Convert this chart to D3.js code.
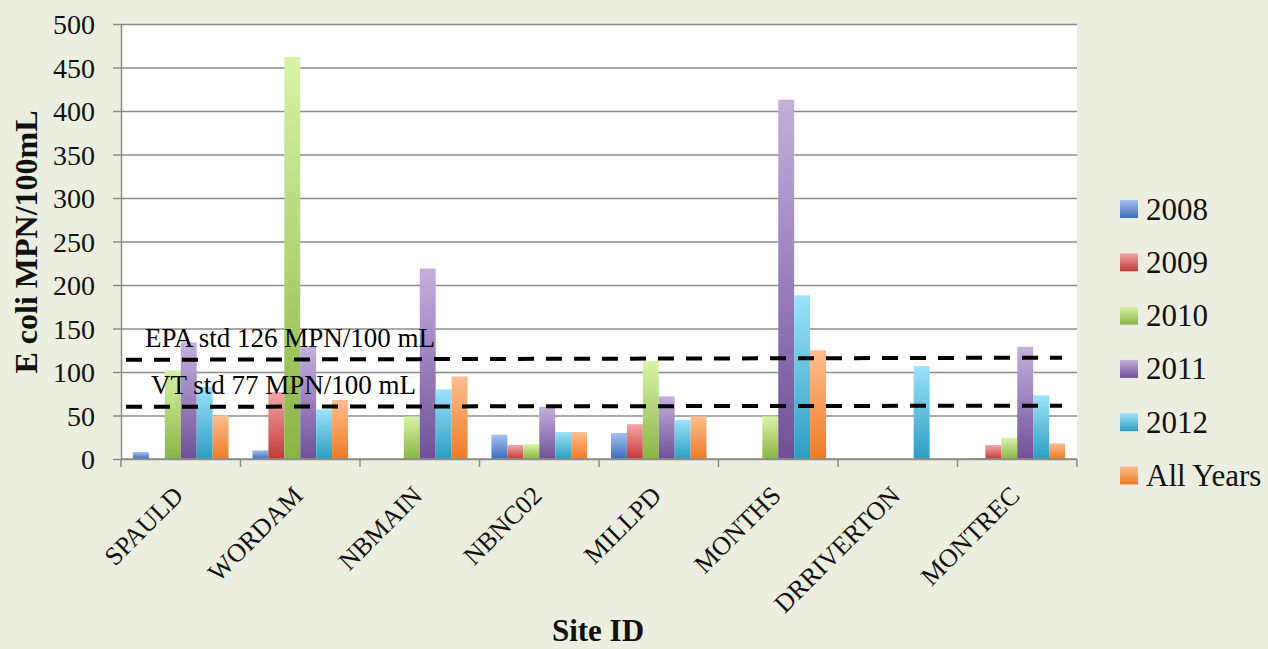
<!DOCTYPE html>
<html>
<head>
<meta charset="utf-8">
<script src="https://cdn.jsdelivr.net/npm/d3@7/dist/d3.min.js"></script>
<style>
  html, body { margin: 0; padding: 0; background: #ecefdf; }
  svg { display: block; }
</style>
</head>
<body>
<svg id="chart" width="1268" height="649"></svg>
<script>
// ---- data ----
const sites = ["SPAULD", "WORDAM", "NBMAIN", "NBNC02", "MILLPD", "MONTHS", "DRRIVERTON", "MONTREC"];
const seriesNames = ["2008", "2009", "2010", "2011", "2012", "All Years"];
const v2008 = [8, 10, 0, 28, 30, 0, 0, 1];
const v2009 = [0, 77, 0, 16, 40, 0, 0, 16];
const v2010 = [102, 462, 49, 17, 113, 49, 0, 24];
const v2011 = [134, 129, 219, 60, 72, 413, 0, 129];
const v2012 = [83, 57, 80, 31, 45, 188, 107, 73];
const vAll  = [50, 68, 95, 31, 49, 125, 0, 18];
const yTicks = [0, 50, 100, 150, 200, 250, 300, 350, 400, 450, 500];
const stdLabels = ["EPA std 126 MPN/100 mL", "VT std 77 MPN/100 mL"];
const stdLevels = [[114, 116.5], [60, 61.3]]; // drawn level of each dashed line (start, end)

const seriesValues = [v2008, v2009, v2010, v2011, v2012, vAll];
const gradStops = [
  ["#a3c0f2", "#3c6db8"],
  ["#f4a6a6", "#c23a3a"],
  ["#d8f3a8", "#8ab545"],
  ["#c4b0dd", "#6f5098"],
  ["#9ce2fa", "#2c9ec0"],
  ["#fdbe90", "#ee7b26"]
];

// ---- layout ----
const svg = d3.select("#chart");
const L = 121, R = 1077, T = 24, B = 459;
const W = R - L;

const x0 = d3.scaleBand().domain(sites).range([L, R]).paddingInner(0).paddingOuter(0);
const x1 = d3.scaleBand().domain(seriesNames).range([0, x0.bandwidth()]).paddingInner(0).paddingOuter(0.75);
const y = d3.scaleLinear().domain([0, 500]).range([B, T]);

const defs = svg.append("defs");
seriesNames.forEach((s, i) => {
  const g = defs.append("linearGradient").attr("id", "g" + i)
    .attr("x1", 0).attr("y1", 0).attr("x2", 0).attr("y2", 1);
  g.append("stop").attr("offset", "0%").attr("stop-color", gradStops[i][0]);
  g.append("stop").attr("offset", "100%").attr("stop-color", gradStops[i][1]);
});

// plot background
svg.append("rect").attr("x", L).attr("y", T).attr("width", W).attr("height", B - T).attr("fill", "#ffffff");

// gridlines
svg.append("g").attr("transform", `translate(${L},0)`)
  .call(d3.axisLeft(y).tickValues(yTicks).tickSize(-W).tickFormat(""))
  .call(g => g.select(".domain").remove())
  .call(g => g.selectAll("line").attr("stroke", "#8c8c8c").attr("stroke-width", 1.5));

// y axis with outside ticks and labels
const yAxis = svg.append("g").attr("transform", `translate(${L},0)`)
  .call(d3.axisLeft(y).tickValues(yTicks).tickSizeInner(8).tickSizeOuter(0).tickPadding(18));
yAxis.select(".domain").attr("stroke", "#8c8c8c").attr("stroke-width", 1.5);
yAxis.selectAll("line").attr("stroke", "#8c8c8c").attr("stroke-width", 1.5);
yAxis.selectAll("text").attr("font-family", "Liberation Serif, serif").attr("font-size", 28)
  .attr("fill", "#111").attr("dy", "0.34em");

// bars
const groups = svg.append("g").selectAll("g").data(sites).join("g")
  .attr("transform", d => `translate(${x0(d)},0)`);
groups.selectAll("rect")
  .data((d, ci) => seriesNames.map((s, si) => ({ s, si, v: seriesValues[si][ci] })))
  .join("rect")
  .attr("x", d => x1(d.s))
  .attr("width", x1.bandwidth())
  .attr("y", d => y(d.v))
  .attr("height", d => B - y(d.v))
  .attr("fill", d => `url(#g${d.si})`);

// x axis line + boundary ticks
svg.append("line").attr("x1", L).attr("x2", R).attr("y1", B).attr("y2", B)
  .attr("stroke", "#8c8c8c").attr("stroke-width", 1.5);
const bounds = sites.map(s => x0(s)).concat([R]);
svg.append("g").selectAll("line").data(bounds).join("line")
  .attr("x1", d => d).attr("x2", d => d).attr("y1", B).attr("y2", B + 8)
  .attr("stroke", "#8c8c8c").attr("stroke-width", 1.5);

// x labels
const xAxis = svg.append("g").attr("transform", `translate(0,${B})`)
  .call(d3.axisBottom(x0).tickSize(0).tickFormat(d => d));
xAxis.select(".domain").remove();
xAxis.selectAll("text")
  .attr("font-family", "Liberation Serif, serif").attr("font-size", 26).attr("fill", "#111")
  .attr("text-anchor", "end").attr("dy", 0)
  .attr("transform", "translate(2,36) rotate(-45)");

// standard lines
const lx0 = L + 5, lx1 = R - 15;
svg.append("g").selectAll("line").data(stdLevels).join("line")
  .attr("x1", lx0).attr("x2", lx1)
  .attr("y1", d => y(d[0])).attr("y2", d => y(d[1]))
  .attr("stroke", "#000").attr("stroke-width", 4).attr("stroke-dasharray", "16,12");

const stdText = svg.append("g").attr("font-family", "Liberation Serif, serif").attr("font-size", 27).attr("fill", "#000");
stdText.append("text").attr("x", 145).attr("y", y(stdLevels[0][0]) - 13).text(stdLabels[0]);
stdText.append("text").attr("x", 151).attr("y", y(stdLevels[1][0]) - 13).text(stdLabels[1]);

// axis titles
svg.append("text").attr("transform", `translate(37,242) rotate(-90)`)
  .attr("text-anchor", "middle").attr("font-family", "Liberation Serif, serif")
  .attr("font-weight", "bold").attr("font-size", 32).attr("fill", "#111")
  .text("E coli MPN/100mL");
svg.append("text").attr("x", 598).attr("y", 641).attr("text-anchor", "middle")
  .attr("font-family", "Liberation Serif, serif").attr("font-weight", "bold")
  .attr("font-size", 31).attr("fill", "#111").text("Site ID");

// legend
const leg = svg.append("g").selectAll("g").data(seriesNames).join("g")
  .attr("transform", (d, i) => `translate(1120,${209 + i * 53.3})`);
leg.append("rect").attr("x", 0).attr("y", -9).attr("width", 18).attr("height", 18)
  .attr("fill", (d, i) => `url(#g${i})`);
leg.append("text").attr("x", 26).attr("y", 0).attr("dy", "0.34em")
  .attr("font-family", "Liberation Serif, serif").attr("font-size", 31).attr("fill", "#111")
  .text(d => d);
</script>
</body>
</html>
